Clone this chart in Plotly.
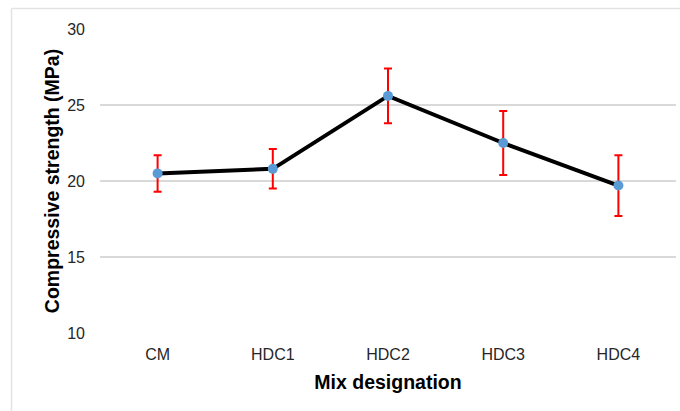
import plotly.graph_objects as go

categories = ["CM", "HDC1", "HDC2", "HDC3", "HDC4"]
strength = [20.5, 20.8, 25.6, 22.5, 19.7]
error = [1.2, 1.3, 1.8, 2.1, 2.0]
y_ticks = [10, 15, 20, 25, 30]

fig = go.Figure()
fig.add_trace(go.Scatter(
    x=categories, y=strength,
    mode="lines+markers",
    line=dict(color="black", width=4),
    marker=dict(color="#5B9BD5", size=10),
    error_y=dict(type="data", array=error, visible=True,
                 color="#FF0000", thickness=2, width=4),
    showlegend=False,
    hoverinfo="skip",
))

font_family = "Liberation Sans, Arial, sans-serif"
bx = (11.5 - 100) / 576
by = (333 - 8.5) / 304
border = dict(color="#E3E3E3", width=1.5)
fig.update_layout(
    width=680, height=411,
    margin=dict(l=100, r=4, t=29, b=78),
    paper_bgcolor="white", plot_bgcolor="white",
    font=dict(family=font_family, color="#262626"),
    xaxis=dict(
        type="category", range=[-0.5, 4.5],
        showgrid=False, zeroline=False, showline=False,
        tickfont=dict(size=16, color="#262626"),
        ticklabelstandoff=10,
        title=dict(text="<b>Mix designation</b>",
                   font=dict(size=19.5, color="black"), standoff=13),
    ),
    yaxis=dict(
        range=[10, 30], tickvals=y_ticks,
        showgrid=True, gridcolor="#D9D9D9", gridwidth=1.5,
        zeroline=False, showline=False,
        tickfont=dict(size=16, color="#262626"),
        ticklabelstandoff=14,
        title=dict(text="<b>Compressive strength (MPa)</b>",
                   font=dict(size=19.5, color="black"), standoff=2),
    ),
    shapes=[
        dict(type="line", xref="paper", yref="paper",
             x0=bx, x1=bx, y0=-0.4, y1=by, line=border, layer="below"),
        dict(type="line", xref="paper", yref="paper",
             x0=bx, x1=1.2, y0=by, y1=by, line=border, layer="below"),
    ],
)

fig.write_html("out.html",
               config={"displayModeBar": False, "staticPlot": True},
               post_script=("document.body.style.margin='0';"
                            "document.body.style.overflow='hidden';"
                            "document.documentElement.style.overflow='hidden';"))
